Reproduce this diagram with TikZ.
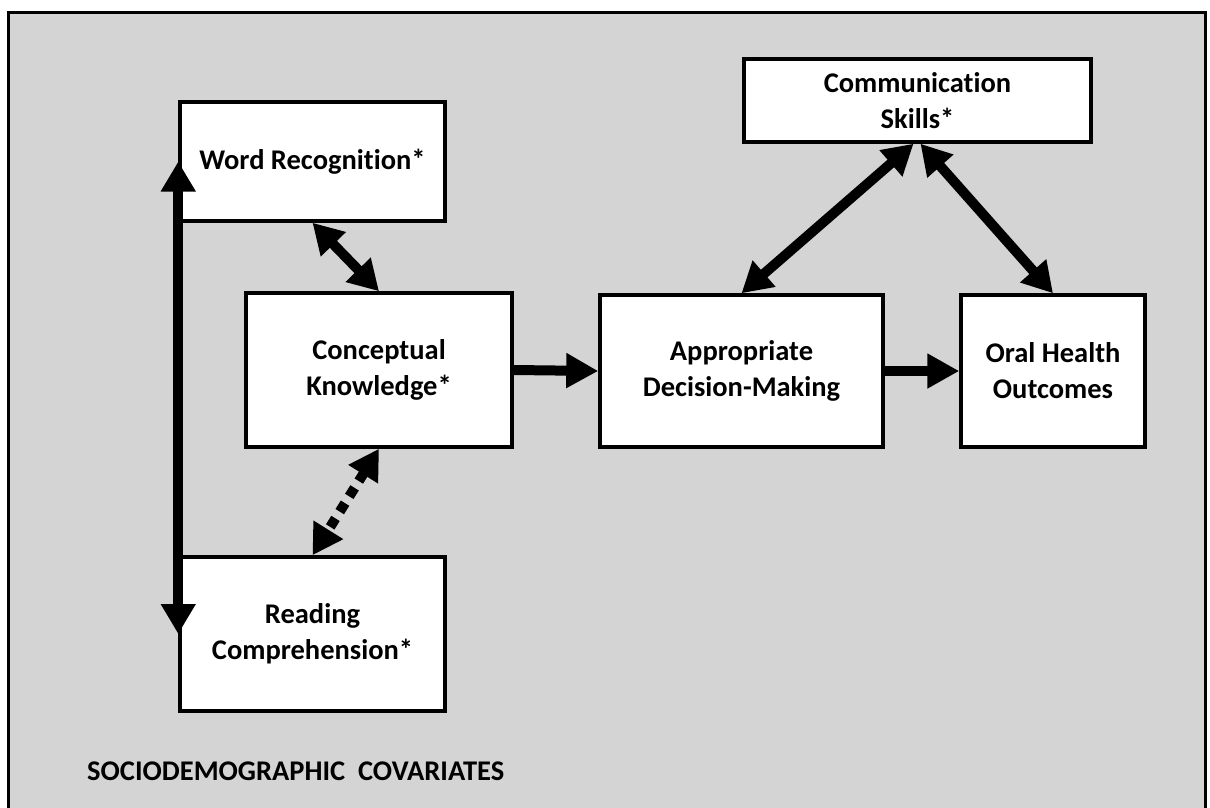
\documentclass[tikz,border=0pt]{standalone}
\usepackage{fontspec}
\setmainfont{Carlito}[Ligatures={NoCommon}]
\usetikzlibrary{arrows.meta}
\definecolor{panelgray}{RGB}{212,212,212}
\tikzset{
  boxfont/.style={font=\fontsize{28.5}{36}\selectfont\bfseries},
  box/.style={draw=black, fill=white, line width=3.5pt, align=center,
    inner sep=0pt, boxfont},
  link/.style={line width=10pt, black},
  bothway/.style={link, {Triangle[length=30pt,width=33pt]}-{Triangle[length=30pt,width=33pt]}},
  oneway/.style={link, -{Triangle[length=32pt,width=33pt]}},
  dotlink/.style={bothway, dash pattern=on 10pt off 8pt}
}
\begin{document}
\begin{tikzpicture}[x=1pt, y=-1pt]
\useasboundingbox (0,0) rectangle (1210,807);
\clip (0,0) rectangle (1210,807);
% panel
\draw[line width=3pt, fill=panelgray] (8,12) rectangle (1205,830);

% boxes
\node[box, minimum width=265pt, minimum height=119pt] (wr) at (312.5,161.5) {Word Recognition*};
\node[box, minimum width=266pt, minimum height=154pt] (ck) at (379,370) {Conceptual\\Knowledge*};
\node[box, minimum width=265pt, minimum height=154pt] (rc) at (312.5,634) {Reading\\Comprehension*};
\node[box, minimum width=283pt, minimum height=152pt] (adm) at (741.5,371) {Appropriate\\Decision-Making};
\node[box, minimum width=184pt, minimum height=152pt] (oh) at (1053,371) {Oral Health\\Outcomes};
\node[box, minimum width=347pt, minimum height=83pt] (cs) at (917.5,100.5) {Communication\\Skills*};

\node[anchor=west, inner sep=0pt, boxfont] (cov) at (87,771)
  {SOCIODEMOGRAPHIC\ \ COVARIATES};

% connectors
\draw[bothway] (wr.west) -- (rc.west);
\draw[bothway] (wr.south) -- (ck.north);
\draw[dotlink] (ck.south) -- (rc.north);
\draw[oneway] (ck.east) -- (adm.west);
\draw[oneway] (adm.east) -- (oh.west);
\draw[bothway] (adm.north) -- ([xshift=-4pt]cs.south);
\draw[bothway] ([xshift=3pt]cs.south) -- (oh.north);
\end{tikzpicture}
\end{document}
